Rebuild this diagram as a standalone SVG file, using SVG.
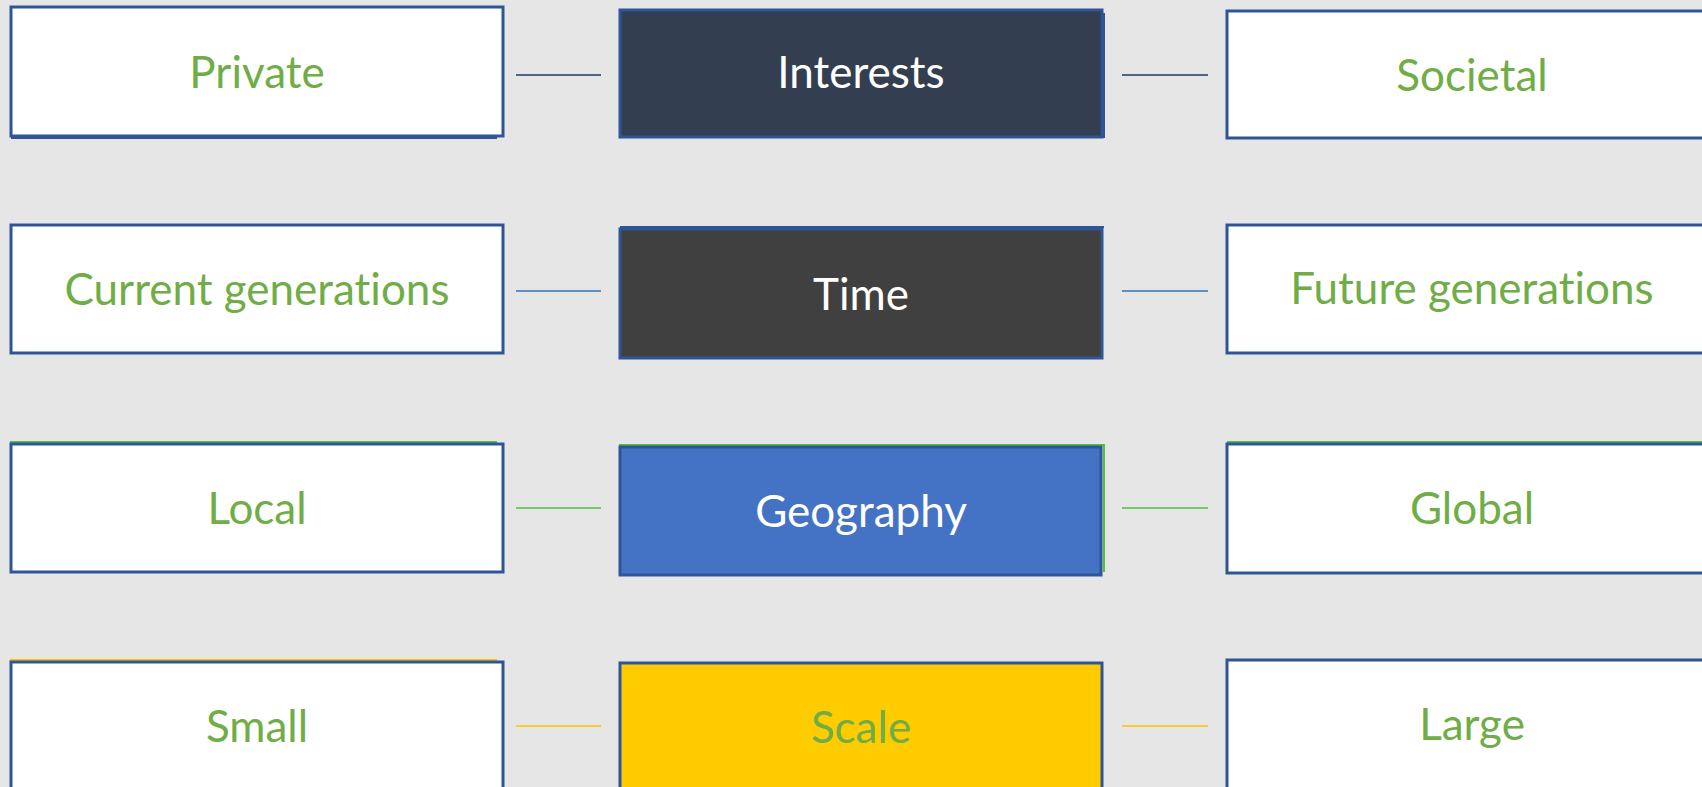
<svg xmlns="http://www.w3.org/2000/svg" width="1702" height="787" viewBox="0 0 1702 787">
<style>
.bg{fill:#E6E6E6}
.box{stroke:#2F5597;stroke-width:3}
.w{fill:#FFFFFF}
.lbl{font-family:Lato,"Open Sans","Liberation Sans",sans-serif;font-size:44px;text-anchor:middle;font-variant-ligatures:none}
.g{fill:#70AD47}
.wt{fill:#FFFFFF}
.c{stroke-width:1.6;fill:none}
</style>
<rect class="bg" x="0" y="0" width="1702" height="787"/>
<g id="connectors">
<line class="c" x1="516" y1="75" x2="601" y2="75" stroke="#203864"/>
<line class="c" x1="1122" y1="75" x2="1208" y2="75" stroke="#203864"/>
<line class="c" x1="516" y1="291" x2="601" y2="291" stroke="#2E75B6"/>
<line class="c" x1="1122" y1="291" x2="1208" y2="291" stroke="#2E75B6"/>
<line class="c" x1="516" y1="508" x2="601" y2="508" stroke="#4CC23E"/>
<line class="c" x1="1122" y1="508" x2="1208" y2="508" stroke="#4CC23E"/>
<line class="c" x1="516" y1="726" x2="601" y2="726" stroke="#FFC000"/>
<line class="c" x1="1122" y1="726" x2="1208" y2="726" stroke="#FFC000"/>
</g>
<g id="private">
<rect class="box w" x="11" y="7" width="492" height="129"/>
<line x1="11" y1="138" x2="497" y2="138" stroke="#2F5597" stroke-width="2"/>
<text class="lbl g" x="257" y="88">Private</text>
</g>
<g id="interests">
<rect class="box" fill="#333F50" x="620" y="10" width="482" height="127"/>
<line x1="1104" y1="13" x2="1104" y2="138" stroke="#2F5597" stroke-width="2"/>
<text class="lbl wt" x="861" y="88">Interests</text>
</g>
<g id="societal">
<rect class="box w" x="1227" y="11" width="500" height="127"/>
<text class="lbl g" x="1472" y="91">Societal</text>
</g>
<g id="current">
<rect class="box w" x="11" y="225" width="492" height="128"/>
<text class="lbl g" x="257" y="305">Current generations</text>
</g>
<g id="time">
<rect class="box" fill="#404040" x="620" y="229" width="482" height="129"/>
<line x1="620" y1="227" x2="1104" y2="227" stroke="#2F5597" stroke-width="2"/>
<text class="lbl wt" x="861" y="310">Time</text>
</g>
<g id="future">
<rect class="box w" x="1227" y="225" width="500" height="128"/>
<text class="lbl g" x="1472" y="304">Future generations</text>
</g>
<g id="local">
<line x1="10" y1="442" x2="497" y2="442" stroke="#4CC23E" stroke-width="2"/>
<rect class="box w" x="11" y="444" width="492" height="128"/>
<text class="lbl g" x="257" y="524">Local</text>
</g>
<g id="geography">
<path d="M619 445 H1104 V572" fill="none" stroke="#4CC23E" stroke-width="2"/>
<rect class="box" fill="#4472C4" x="620" y="447" width="481" height="128"/>
<text class="lbl wt" x="861" y="527">Geography</text>
</g>
<g id="global">
<line x1="1227" y1="442" x2="1702" y2="442" stroke="#4CC23E" stroke-width="2"/>
<rect class="box w" x="1227" y="444" width="500" height="129"/>
<text class="lbl g" x="1472" y="524">Global</text>
</g>
<g id="small">
<line x1="10" y1="660" x2="497" y2="660" stroke="#FFC000" stroke-width="2"/>
<rect class="box w" x="11" y="662" width="492" height="140"/>
<text class="lbl g" x="257" y="742">Small</text>
</g>
<g id="scale">
<rect class="box" fill="#FFCC00" x="620" y="663" width="482" height="140"/>
<text class="lbl g" x="861" y="743">Scale</text>
</g>
<g id="large">
<rect class="box w" x="1227" y="660" width="500" height="140"/>
<text class="lbl g" x="1472" y="740">Large</text>
</g>
</svg>
